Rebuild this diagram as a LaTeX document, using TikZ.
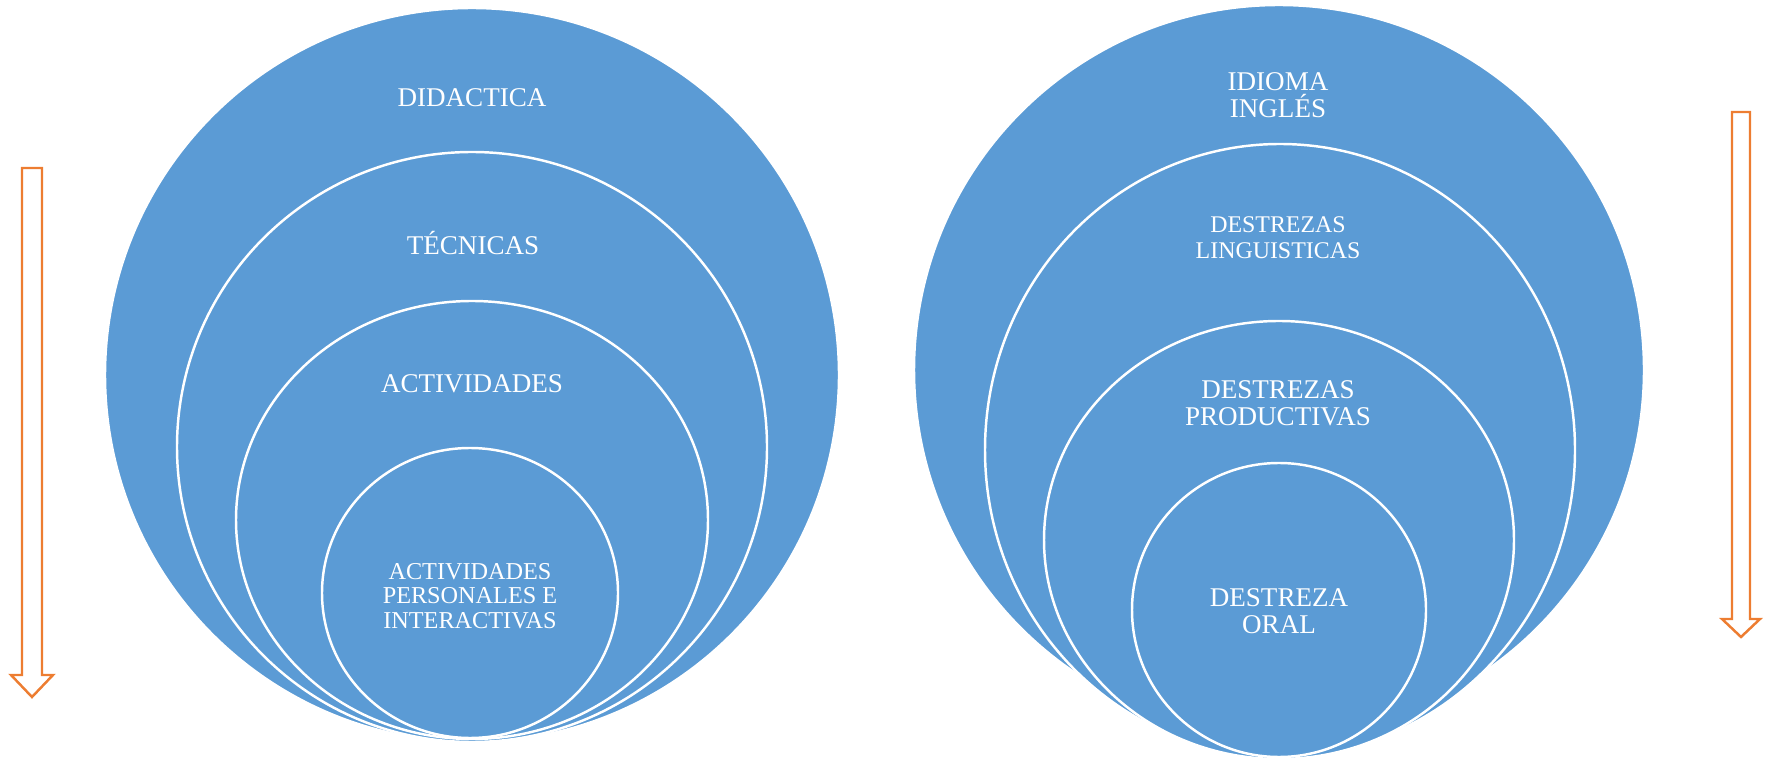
\documentclass[tikz,border=0pt]{standalone}
\usepackage{fontspec}
\setmainfont{Liberation Serif}
\definecolor{ringblue}{HTML}{5B9BD5}
\definecolor{arroworange}{HTML}{ED7D31}
\begin{document}
\begin{tikzpicture}[x=0.02cm,y=0.02cm,
  ring/.style={fill=ringblue,draw=white,line width=1.4pt},
  lbl/.style={text=white,align=center,inner sep=0pt,font=\fontsize{15.4}{15.6}\selectfont},
  lblmid/.style={text=white,align=center,inner sep=0pt,font=\fontsize{13.6}{14.6}\selectfont},
  lblsmall/.style={text=white,align=center,inner sep=0pt,font=\fontsize{13.8}{13.8}\selectfont},
  downarrow/.style={draw=arroworange,fill=white,line width=1.4pt,line join=miter}]
\useasboundingbox (0,0) rectangle (1769,758);
% left target
\draw[ring] (472,383) ellipse [x radius=367,y radius=367];
\draw[ring] (472,311) ellipse [x radius=295,y radius=295];
\draw[ring] (472,238) ellipse [x radius=236,y radius=219];
\draw[ring] (470,165) ellipse [x radius=148,y radius=145];
\node[lbl] (didactica) at (472,660) {DIDACTICA};
\node[lbl] (tecnicas) at (473,515) {TÉCNICAS};
\node[lbl] (actividades) at (472,374) {ACTIVIDADES};
\node[lblsmall] (personales) at (470,162) {ACTIVIDADES\\PERSONALES E\\INTERACTIVAS};
% right target
\draw[ring] (1279,388) ellipse [x radius=365,y radius=365];
\draw[ring] (1280,308) ellipse [x radius=295,y radius=306];
\draw[ring] (1279,218) ellipse [x radius=235,y radius=219];
\draw[ring] (1279,148) ellipse [x radius=147,y radius=147];
\node[lbl] (idioma) at (1278,663) {IDIOMA\\INGLÉS};
\node[lblmid] (linguisticas) at (1278,520) {DESTREZAS\\LINGUISTICAS};
\node[lbl] (productivas) at (1278,355) {DESTREZAS\\PRODUCTIVAS};
\node[lbl] (oral) at (1279,147) {DESTREZA\\ORAL};
% arrows
\draw[downarrow] (22,590) -- (42,590) -- (42,83) -- (53,83) -- (32,61) -- (11,83) -- (22,83) -- cycle;
\draw[downarrow] (1732,646) -- (1750,646) -- (1750,139) -- (1760,139) -- (1741,121) -- (1722,139) -- (1732,139) -- cycle;
\end{tikzpicture}
\end{document}
